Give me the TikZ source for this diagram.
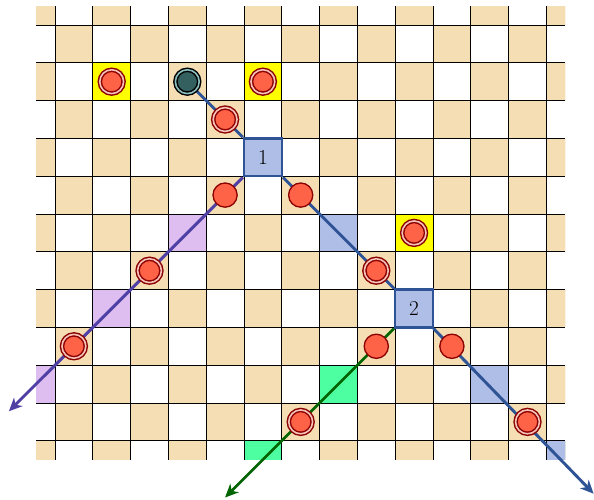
\documentclass[tikz,border=0pt]{standalone}
\usetikzlibrary{arrows.meta}
\definecolor{tanc}{RGB}{245,222,179}
\definecolor{yelc}{RGB}{255,255,0}
\definecolor{purpc}{RGB}{222,190,240}
\definecolor{bluec}{RGB}{174,190,230}
\definecolor{greenc}{RGB}{77,255,160}
\definecolor{blueln}{RGB}{47,84,150}
\definecolor{purpln}{RGB}{80,64,165}
\definecolor{greenln}{RGB}{0,100,0}
\definecolor{piecered}{RGB}{255,99,71}
\definecolor{piecedark}{RGB}{139,0,0}
\definecolor{piecegap}{RGB}{245,195,185}
\definecolor{tealfill}{RGB}{52,96,96}
\definecolor{tealgap}{RGB}{140,192,192}
\pgfdeclarelayer{board}
\pgfdeclarelayer{links}
\pgfsetlayers{board,links,main}
\begin{document}
\begin{tikzpicture}[
  gridline/.style={black, line width=0.6pt},
  plainpiece/.style={circle, fill=piecered, draw=piecedark, line width=1pt, minimum size=0.64cm, inner sep=0pt},
  kingpiece/.style={circle, fill=piecered, draw=piecedark, double=piecegap, double distance=1.2pt, line width=1.1pt, minimum size=0.63cm, inner sep=0pt},
  tealpiece/.style={circle, fill=tealfill, draw=black, double=tealgap, double distance=1.2pt, line width=1.1pt, minimum size=0.63cm, inner sep=0pt},
  markbox/.style={rectangle, fill=bluec, draw=blueln, line width=1.8pt, minimum size=1cm, inner sep=0pt, font=\fontsize{16}{18}\selectfont},
  bluepath/.style={blueln, line width=2.2pt},
  purppath/.style={purpln, line width=2.2pt},
  greenpath/.style={greenln, line width=2pt},
  tipstyle/.style={-{Stealth[length=10pt,width=9pt,inset=3pt]}}
]
\useasboundingbox (-1.455,0.661) rectangle (14.26,-12.566);
\begin{pgfonlayer}{board}
\begin{scope}
\clip (-0.5,0.5) rectangle (13.5,-11.5);
\fill[white] (-0.5,0.5) rectangle (13.5,-11.5);
\foreach \i in {-1,...,13}{
  \foreach \r in {-1,...,11}{
    \pgfmathtruncatemacro{\parity}{mod(\i+\r+2,2)}
    \ifnum\parity=0 \fill[tanc] (\i,-\r) rectangle ++(1,-1); \fi
  }
}
% highlighted cells
\foreach \i/\r in {1/1,5/1,9/5} \fill[yelc] (\i,-\r) rectangle ++(1,-1);
\foreach \i/\r in {3/5,1/7,-1/9} \fill[purpc] (\i,-\r) rectangle ++(1,-1);
\foreach \i/\r in {7/5,11/9,13/11} \fill[bluec] (\i,-\r) rectangle ++(1,-1);
\foreach \i/\r in {7/9,5/11} \fill[greenc] (\i,-\r) rectangle ++(1,-1);
\draw[gridline] (-0.5,0.5) grid (13.5,-11.5);
\end{scope}
\end{pgfonlayer}

% pieces
\node[kingpiece] (k1) at (1.5,-1.5) {};
\node[kingpiece] (k2) at (5.5,-1.5) {};
\node[kingpiece] (k3) at (9.5,-5.5) {};
\node[tealpiece] (teal) at (3.5,-1.5) {};
\node[kingpiece] (d1) at (4.5,-2.5) {};
\node[markbox] (b1) at (5.5,-3.5) {1};
\node[plainpiece] (p1) at (4.5,-4.5) {};
\node[kingpiece] (d2) at (2.5,-6.5) {};
\node[kingpiece] (d3) at (0.5,-8.5) {};
\node[plainpiece] (p2) at (6.5,-4.5) {};
\node[kingpiece] (d4) at (8.5,-6.5) {};
\node[markbox] (b2) at (9.5,-7.5) {2};
\node[plainpiece] (p3) at (8.5,-8.5) {};
\node[kingpiece] (d5) at (6.5,-10.5) {};
\node[plainpiece] (p4) at (10.5,-8.5) {};
\node[kingpiece] (d6) at (12.5,-10.5) {};
\coordinate (pend) at (-1.22,-10.22);
\coordinate (gend) at (4.5,-12.5);
\coordinate (bend) at (14.25,-12.4);

\begin{pgfonlayer}{links}
\draw[bluepath] (teal) -- (b1);
\draw[bluepath] (b1) -- (b2);
\draw[bluepath,tipstyle] (b2) -- (bend);
\draw[purppath,tipstyle] (b1) -- (pend);
\draw[greenpath,tipstyle] (b2) -- (gend);
\end{pgfonlayer}
\end{tikzpicture}
\end{document}
